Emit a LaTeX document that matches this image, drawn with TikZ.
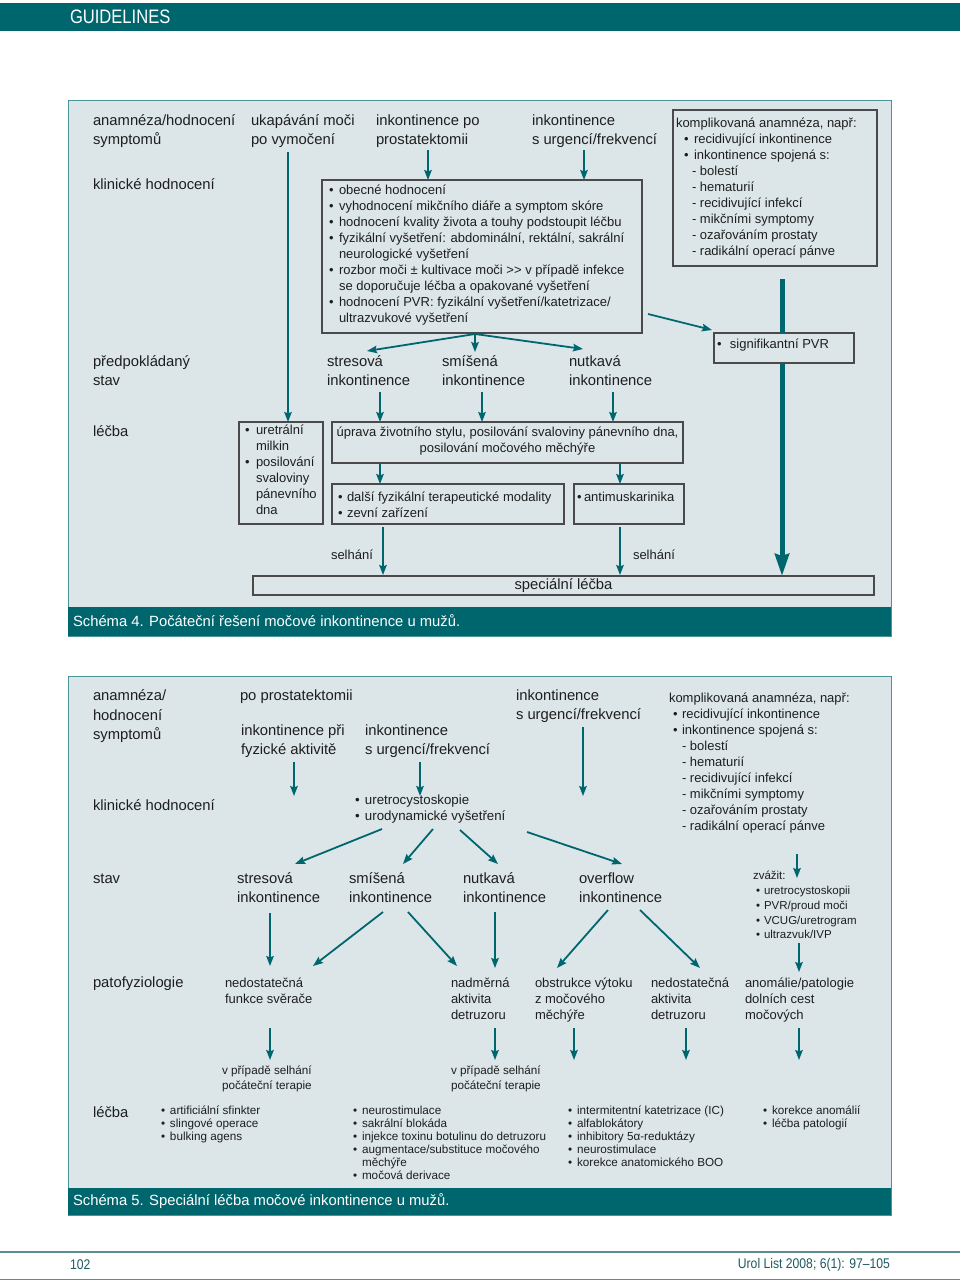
\documentclass[tikz,border=0pt]{standalone}
\usepackage{fontspec}
\setmainfont{Liberation Sans}
\usetikzlibrary{arrows.meta}
\definecolor{teal1}{HTML}{00666E}
\definecolor{panelbg}{HTML}{DCE6E9}
\definecolor{panelbd}{HTML}{4A9496}
\definecolor{boxbd}{HTML}{4A4A4A}
\definecolor{txtc}{HTML}{1E1E1E}
\definecolor{footc}{HTML}{5E8C8E}
\definecolor{foottx}{HTML}{1F5A62}
\newcommand\fl{\rule{0pt}{1em}}
\newcommand\bul[1]{\makebox[#1][l]{\textbullet}}
\begin{document}
\begin{tikzpicture}[x=1pt,y=-1pt,
  every node/.style={inner sep=0pt,outer sep=0pt},
  T/.style={anchor=north west,align=left,text=txtc,font=\fontsize{14.8}{19}\selectfont},
  S/.style={anchor=north west,align=left,text=txtc,font=\fontsize{13}{16}\selectfont},
  X/.style={anchor=north west,align=left,text=txtc,font=\fontsize{11.7}{13}\selectfont},
  bx/.style={draw=boxbd,line width=1.1pt,anchor=north west},
  ar/.style={draw=teal1,line width=1.8pt,-{Stealth[length=10pt,width=7.5pt,inset=1.5pt]}},
  ln/.style={draw=teal1,line width=1.8pt},
  thk/.style={draw=teal1,line width=5pt},
  thkar/.style={draw=teal1,line width=5pt,-{Stealth[length=22pt,width=14pt,inset=2pt]}},
  captxt/.style={anchor=west,text=white,font=\fontsize{14.8}{18}\selectfont}
]
\useasboundingbox (0,0) rectangle (960,1282);
\fill[white] (0,0) rectangle (960,1282);
% header
\fill[teal1] (0,3) rectangle (960,30.5);
\node[anchor=west,text=white,font=\fontsize{19.5}{20}\selectfont] (hdr) at (70,17) {\scalebox{0.85}[1]{GUIDELINES}};
% footer
\draw[footc,line width=1.6pt] (0,1252) -- (960,1252);
\draw[footc,line width=1pt] (0,1279) -- (960,1279);
\node[anchor=west,text=foottx,font=\fontsize{14}{16}\selectfont] (pg) at (70,1265) {\scalebox{0.87}[1]{102}};
\node[anchor=east,text=foottx,font=\fontsize{14}{16}\selectfont] (jr) at (890,1265) {\scalebox{0.87}[1]{Urol List 2008; 6(1): 97–105}};

%%%%%%%%%%%%%%%% SCHEMA 4
\filldraw[fill=panelbg,draw=panelbd,line width=1pt] (68,100) rectangle (891,636);
\fill[teal1] (68,607) rectangle (891,636);
\node[captxt] (cap4) at (73,621) {Schéma 4. Počáteční řešení močové inkontinence u mužů.};

\node[T] (h1) at (93,111) {\fl anamnéza/hodnocení\\symptomů};
\node[T] (h2) at (251,111) {\fl ukapávání moči\\po vymočení};
\node[T] (h3) at (376,111) {\fl inkontinence po\\prostatektomii};
\node[T] (h4) at (532,111) {\fl inkontinence\\s urgencí/frekvencí};
\node[T] (kh) at (93,175) {\fl klinické hodnocení};
\node[T] (ps) at (93,352) {\fl předpokládaný\\stav};
\node[T] (st) at (327,352) {\fl stresová\\inkontinence};
\node[T] (sm) at (442,352) {\fl smíšená\\inkontinence};
\node[T] (nu) at (569,352) {\fl nutkavá\\inkontinence};
\node[T] (le) at (93,422) {\fl léčba};

% boxes
\node[bx,minimum width=320pt,minimum height=153pt] (mb) at (322,180) {};
\node[bx,minimum width=204pt,minimum height=156pt] (cb) at (673,110) {};
\node[bx,minimum width=140pt,minimum height=30pt] (pb) at (714,333) {};
\node[bx,minimum width=84pt,minimum height=102pt] (ub) at (239,422) {};
\node[bx,minimum width=351pt,minimum height=41pt] (upb) at (332,422) {};
\node[bx,minimum width=232pt,minimum height=40pt] (db) at (332,484) {};
\node[bx,minimum width=110pt,minimum height=40pt] (ab) at (574,484) {};
\node[bx,minimum width=621pt,minimum height=19pt] (sb) at (253,576) {};

\node[S] (mbt) at (329,181.3) {\fl\bul{10pt}obecné hodnocení\\
\bul{10pt}vyhodnocení mikčního diáře a symptom skóre\\
\bul{10pt}hodnocení kvality života a touhy podstoupit léčbu\\
\bul{10pt}fyzikální vyšetření: abdominální, rektální, sakrální\\
\hspace*{10pt}neurologické vyšetření\\
\bul{10pt}rozbor moči ± kultivace moči >{}> v případě infekce\\
\hspace*{10pt}se doporučuje léčba a opakované vyšetření\\
\bul{10pt}hodnocení PVR: fyzikální vyšetření/katetrizace/\\
\hspace*{10pt}ultrazvukové vyšetření};
\node[S] (cbt) at (676,114.3) {\fl komplikovaná anamnéza, např:\\
\hspace*{8pt}\bul{10pt}recidivující inkontinence\\
\hspace*{8pt}\bul{10pt}inkontinence spojená s:\\
\hspace*{16pt}- bolestí\\
\hspace*{16pt}- hematurií\\
\hspace*{16pt}- recidivující infekcí\\
\hspace*{16pt}- mikčními symptomy\\
\hspace*{16pt}- ozařováním prostaty\\
\hspace*{16pt}- radikální operací pánve};
\node[S] (pbt) at (717,335.3) {\fl\bul{13pt}signifikantní PVR};
\node[S] (ubt) at (245,421.3) {\fl\bul{11pt}uretrální\\
\hspace*{11pt}milkin\\
\bul{11pt}posilování\\
\hspace*{11pt}svaloviny\\
\hspace*{11pt}pánevního\\
\hspace*{11pt}dna};
\node[S,anchor=north,align=center] (upt) at (507.5,423.3) {\fl úprava životního stylu, posilování svaloviny pánevního dna,\\posilování močového měchýře};
\node[S] (dbt) at (338,488.3) {\fl\bul{9pt}další fyzikální terapeutické modality\\\bul{9pt}zevní zařízení};
\node[S] (abt) at (577,488.3) {\fl\bul{7pt}antimuskarinika};
\node[T,anchor=north] (sbt) at (563.5,575) {\fl speciální léčba};
\node[S] (sel1) at (331,546.3) {\fl selhání};
\node[S] (sel2) at (633,546.3) {\fl selhání};

% connectors schema 4
\coordinate (c1) at (428,150);
\coordinate (c2) at (584,150);
\coordinate (c3) at (288,152);
\coordinate (br) at (475,334);
\coordinate (brL) at (367,351);
\coordinate (brD) at (475,352);
\coordinate (brR) at (583,349);
\coordinate (c5s) at (648,314);
\coordinate (c5e) at (712,330);
\coordinate (c6) at (782,279);
\coordinate (c7a) at (380,392);
\coordinate (c7b) at (482,392);
\coordinate (c7c) at (613,392);
\coordinate (c8a) at (380,464);
\coordinate (c8b) at (620,464);
\coordinate (c9a) at (383,527);
\coordinate (c9b) at (620,527);
\draw[ar] (c1) -- (c1 |- mb.north);
\draw[ar] (c2) -- (c2 |- mb.north);
\draw[ar] (c3) -- (c3 |- ub.north);
\draw[ar] (br) -- (brL);
\draw[ar] (br) -- (brD);
\draw[ar] (br) -- (brR);
\draw[ar] (c5s) -- (c5e);
\draw[thk] (c6) -- (c6 |- pb.north);
\draw[thkar] (c6 |- pb.south) -- (c6 |- sb.north);
\draw[ar] (c7a) -- (c7a |- upb.north);
\draw[ar] (c7b) -- (c7b |- upb.north);
\draw[ar] (c7c) -- (c7c |- upb.north);
\draw[ar] (c8a) -- (c8a |- db.north);
\draw[ar] (c8b) -- (c8b |- ab.north);
\draw[ar] (c9a) -- ([yshift=1pt]c9a |- sb.north);
\draw[ar] (c9b) -- ([yshift=1pt]c9b |- sb.north);

%%%%%%%%%%%%%%%% SCHEMA 5
\filldraw[fill=panelbg,draw=panelbd,line width=1pt] (68,676) rectangle (891,1215);
\fill[teal1] (68,1188) rectangle (891,1215);
\node[captxt] (cap5) at (73,1201) {Schéma 5. Speciální léčba močové inkontinence u mužů.};

\node[T,font=\fontsize{14.8}{19.5}\selectfont] (g1) at (93,686) {\fl anamnéza/\\hodnocení\\symptomů};
\node[T] (g2) at (240,686) {\fl po prostatektomii};
\node[T] (g3) at (241,721) {\fl inkontinence při\\fyzické aktivitě};
\node[T] (g4) at (365,721) {\fl inkontinence\\s urgencí/frekvencí};
\node[T] (g5) at (516,686) {\fl inkontinence\\s urgencí/frekvencí};
\node[S] (g6) at (669,689.3) {\fl komplikovaná anamnéza, např:\\
\hspace*{4pt}\bul{9pt}recidivující inkontinence\\
\hspace*{4pt}\bul{9pt}inkontinence spojená s:\\
\hspace*{13pt}- bolestí\\
\hspace*{13pt}- hematurií\\
\hspace*{13pt}- recidivující infekcí\\
\hspace*{13pt}- mikčními symptomy\\
\hspace*{13pt}- ozařováním prostaty\\
\hspace*{13pt}- radikální operací pánve};
\node[T] (g7) at (93,796) {\fl klinické hodnocení};
\node[S,font=\fontsize{13.3}{16}\selectfont] (g8) at (355,791.1) {\fl\bul{10pt}uretrocystoskopie\\\bul{10pt}urodynamické vyšetření};
\node[T] (g9) at (93,869) {\fl stav};
\node[T] (st5) at (237,869) {\fl stresová\\inkontinence};
\node[T] (sm5) at (349,869) {\fl smíšená\\inkontinence};
\node[T] (nu5) at (463,869) {\fl nutkavá\\inkontinence};
\node[T] (ov5) at (579,869) {\fl overflow\\inkontinence};
\node[X,font=\fontsize{11.5}{14.7}\selectfont] (zv) at (753,868.4) {\fl zvážit:\\
\hspace*{3pt}\bul{8pt}uretrocystoskopii\\
\hspace*{3pt}\bul{8pt}PVR/proud moči\\
\hspace*{3pt}\bul{8pt}VCUG/uretrogram\\
\hspace*{3pt}\bul{8pt}ultrazvuk/IVP};
\node[T] (pf) at (93,973) {\fl patofyziologie};
\node[S] (p1) at (225,974.3) {\fl nedostatečná\\funkce svěrače};
\node[S] (p2) at (451,974.3) {\fl nadměrná\\aktivita\\detruzoru};
\node[S] (p3) at (535,974.3) {\fl obstrukce výtoku\\z močového\\měchýře};
\node[S] (p4) at (651,974.3) {\fl nedostatečná\\aktivita\\detruzoru};
\node[S] (p5) at (745,974.3) {\fl anomálie/patologie\\dolních cest\\močových};
\node[X,font=\fontsize{11.7}{15}\selectfont] (v1) at (222,1063.2) {\fl v případě selhání\\počáteční terapie};
\node[X,font=\fontsize{11.7}{15}\selectfont] (v2) at (451,1063.2) {\fl v případě selhání\\počáteční terapie};
\node[T] (le5) at (93,1103) {\fl léčba};
\node[X] (L1) at (161,1103.2) {\fl\bul{9pt}artificiální sfinkter\\\bul{9pt}slingové operace\\\bul{9pt}bulking agens};
\node[X] (L2) at (353,1103.2) {\fl\bul{9pt}neurostimulace\\\bul{9pt}sakrální blokáda\\\bul{9pt}injekce toxinu botulinu do detruzoru\\\bul{9pt}augmentace/substituce močového\\\hspace*{9pt}měchýře\\\bul{9pt}močová derivace};
\node[X] (L3) at (568,1103.2) {\fl\bul{9pt}intermitentní katetrizace (IC)\\\bul{9pt}alfablokátory\\\bul{9pt}inhibitory 5α-reduktázy\\\bul{9pt}neurostimulace\\\bul{9pt}korekce anatomického BOO};
\node[X] (L4) at (763,1103.2) {\fl\bul{9pt}korekce anomálií\\\bul{9pt}léčba patologií};

% connectors schema 5
\coordinate (d1s) at (294,762); \coordinate (d1e) at (294,796);
\coordinate (d2s) at (420,762); \coordinate (d2e) at (420,796);
\coordinate (d3s) at (583,727); \coordinate (d3e) at (583,796);
\coordinate (d4s) at (382,829); \coordinate (d4e) at (295,864);
\coordinate (d5s) at (433,829); \coordinate (d5e) at (403,864);
\coordinate (d6s) at (460,830); \coordinate (d6e) at (498,864);
\coordinate (d7s) at (527,832); \coordinate (d7e) at (622,864);
\coordinate (d8s) at (797,854); \coordinate (d8e) at (797,878);
\coordinate (e1s) at (270,913); \coordinate (e1e) at (270,966);
\coordinate (e2s) at (383,912); \coordinate (e2e) at (313,966);
\coordinate (e3s) at (408,912); \coordinate (e3e) at (457,966);
\coordinate (e4s) at (495,912); \coordinate (e4e) at (495,968);
\coordinate (e5s) at (608,910); \coordinate (e5e) at (557,968);
\coordinate (e6s) at (640,910); \coordinate (e6e) at (700,968);
\coordinate (e7s) at (799,943); \coordinate (e7e) at (799,972);
\coordinate (f1s) at (270,1028); \coordinate (f1e) at (270,1060);
\coordinate (f2s) at (495,1028); \coordinate (f2e) at (495,1060);
\coordinate (f3s) at (574,1028); \coordinate (f3e) at (574,1060);
\coordinate (f4s) at (686,1028); \coordinate (f4e) at (686,1060);
\coordinate (f5s) at (799,1028); \coordinate (f5e) at (799,1060);
\foreach \a in {d1,d2,d3,d4,d5,d6,d7,d8,e1,e2,e3,e4,e5,e6,e7,f1,f2,f3,f4,f5}
  \draw[ar] (\a s) -- (\a e);
\end{tikzpicture}
\end{document}
